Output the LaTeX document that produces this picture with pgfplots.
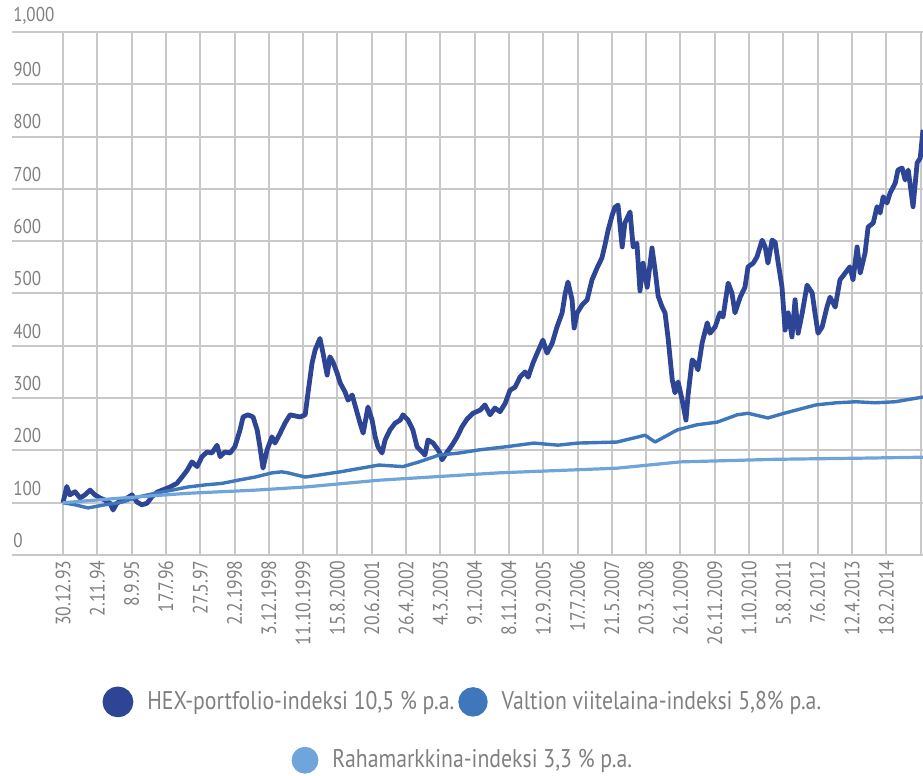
\documentclass[border=0pt]{standalone}
\usepackage{fontspec}
\setmainfont{PT Sans}[FakeStretch=0.85]
\usepackage{pgfplots}
\pgfplotsset{compat=1.18}
\definecolor{hex}{RGB}{46,68,148}
\definecolor{valt}{RGB}{62,119,188}
\definecolor{raha}{RGB}{112,165,219}
\definecolor{txt}{RGB}{128,128,128}
\definecolor{gridc}{RGB}{200,200,200}
\begin{document}
\begin{tikzpicture}
\begin{axis}[
  scale only axis, width=455.5pt, height=261.5pt,
  xmin=-1.487, xmax=25.07, ymin=0, ymax=1000,
  axis line style={draw=none}, tick style={draw=none},
  xtick={0,...,25},
  xticklabels={30.12.93, 2.11.94, 8.9.95, 17.7.96, 27.5.97, 2.2.1998, 3.12.1998, 11.10.1999, 15.8.2000, 20.6.2001, 26.4.2002, 4.3.2003, 9.1.2004, 8.11.2004, 12.9.2005, 17.7.2006, 21.5.2007, 20.3.2008, 26.1.2009, 26.11.2009, 1.10.2010, 5.8.2011, 7.6.2012, 12.4.2013, 18.2.2014, {}},
  ytick={0,100,...,1000},
  /pgf/number format/assume math mode=true,
  /pgf/number format/1000 sep={,},
  grid=major, major grid style={gridc, line width=1pt},
  yticklabel style={anchor=south west, inner xsep=0.5pt, inner ysep=3.5pt, font=\fontsize{10}{12}\selectfont, text=txt},
  xticklabel style={rotate=90, anchor=east, inner sep=2.5pt, font=\fontsize{10.4}{12}\selectfont, text=txt},
  legend style={at={(0.496,-0.243)}, anchor=north, draw=none, fill=none, font=\fontsize{12.8}{15}\selectfont, text=txt, /tikz/every even column/.append style={column sep=0pt}},
  legend columns=2,
  legend image code/.code={\fill (6.5pt,0pt) circle (6.5pt); \path (18pt,0pt);},
]
\addplot[color=hex, line width=2.4pt, line join=round] coordinates {
(0,100)(0.11,131)(0.20,115)(0.35,121)(0.50,109)(0.64,115)(0.79,124)(0.93,115)(1.08,109)(1.22,105)
(1.37,99)(1.46,86)(1.57,99)(1.72,105)(1.87,109)(2.01,115)(2.16,101)(2.30,96)(2.45,99)(2.59,111)
(2.74,120)(2.89,124)(3.12,130)(3.32,137)(3.47,149)(3.62,162)(3.76,178)(3.91,169)(4.05,188)(4.20,197)
(4.34,195)(4.49,210)(4.58,188)(4.72,197)(4.87,195)(5.01,207)(5.16,239)(5.25,264)(5.39,268)(5.54,264)
(5.66,239)(5.74,207)(5.83,166)(5.95,201)(6.09,226)(6.18,214)(6.33,233)(6.47,252)(6.62,268)(6.76,266)
(6.91,264)(7.06,268)(7.14,309)(7.26,367)(7.35,392)(7.49,414)(7.58,386)(7.70,344)(7.78,379)(7.87,369)
(7.99,348)(8.08,329)(8.22,312)(8.31,296)(8.43,306)(8.51,287)(8.66,252)(8.75,233)(8.89,283)(9.01,258)
(9.10,226)(9.18,207)(9.30,195)(9.39,220)(9.53,239)(9.68,252)(9.83,258)(9.91,268)(10.06,258)(10.20,239)
(10.32,207)(10.47,197)(10.55,191)(10.64,220)(10.79,214)(10.90,204)(10.99,195)(11.05,182)(11.20,197)(11.34,210)
(11.49,226)(11.63,245)(11.78,260)(11.95,271)(12.16,277)(12.30,287)(12.45,268)(12.59,281)(12.74,274)(12.89,290)
(13.03,315)(13.18,321)(13.32,340)(13.47,350)(13.56,340)(13.70,367)(13.85,390)(13.99,411)(14.11,386)(14.26,405)
(14.40,436)(14.55,463)(14.64,500)(14.72,522)(14.84,488)(14.90,434)(14.99,463)(15.13,478)(15.28,488)(15.42,526)
(15.57,549)(15.71,568)(15.80,593)(15.89,621)(16.01,650)(16.09,665)(16.18,669)(16.30,589)(16.38,635)(16.53,656)
(16.62,589)(16.73,596)(16.82,505)(16.91,558)(17.03,512)(17.17,587)(17.26,545)(17.35,495)(17.46,475)(17.55,463)
(17.64,414)(17.76,335)(17.84,310)(17.93,331)(18.05,296)(18.16,258)(18.22,305)(18.34,373)(18.43,367)(18.51,354)
(18.63,405)(18.78,444)(18.86,424)(19.01,436)(19.15,463)(19.24,455)(19.39,520)(19.50,501)(19.59,463)(19.74,493)
(19.88,512)(19.97,551)(20.12,558)(20.23,570)(20.38,602)(20.47,589)(20.55,558)(20.67,602)(20.76,598)(20.85,558)
(20.96,512)(21.05,430)(21.14,463)(21.25,417)(21.34,488)(21.43,424)(21.55,463)(21.69,516)(21.84,501)(21.92,463)
(22.01,424)(22.13,436)(22.27,474)(22.36,493)(22.51,474)(22.65,526)(22.80,539)(22.94,551)(23.03,526)(23.15,589)
(23.24,539)(23.38,577)(23.47,627)(23.62,635)(23.73,666)(23.82,654)(23.91,685)(24.02,673)(24.11,692)(24.26,711)
(24.34,736)(24.46,740)(24.55,717)(24.64,736)(24.78,666)(24.90,750)(24.99,759)(25.07,813)
};
\addlegendentry{HEX-portfolio-indeksi 10,5 \% p.a.}
\addplot[color=valt, line width=1.7pt, line join=round] coordinates {
(0,100)(0.35,96)(0.73,90)(1.22,96)(1.72,101)(2.19,111)(2.68,118)(3.18,124)(3.64,130)(4.14,134)
(4.64,137)(5.10,143)(5.60,149)(6.09,157)(6.38,159)(6.56,157)(7.06,149)(8.08,159)(9.21,172)(9.91,169)
(10.38,178)(10.96,191)(11.55,195)(12.13,201)(12.92,207)(13.73,214)(14.43,210)(15.01,214)(16.15,216)(16.97,229)
(17.26,216)(17.90,239)(18.48,249)(19.07,254)(19.65,268)(19.97,271)(20.55,262)(21.02,271)(21.95,287)(22.54,291)
(23.12,293)(23.67,291)(24.26,293)(25.07,302)
};
\addlegendentry{Valtion viitelaina-indeksi 5,8\% p.a.}
\addplot[color=raha, line width=1.6pt, line join=round, forget plot] coordinates {
(0,100)(1.72,109)(3.64,118)(5.60,124)(7.06,130)(9.21,143)(12.68,157)(16.15,166)(17.99,178)(20.79,183)
(23.12,185)(25.07,187)
};
\end{axis}
\begin{axis}[
  scale only axis, width=455.5pt, height=261.5pt,
  xmin=0, xmax=1, ymin=0, ymax=1, hide axis,
  legend style={at={(0.496,-0.356)}, anchor=north, draw=none, fill=none, font=\fontsize{12.8}{15}\selectfont, text=txt},
  legend image code/.code={\fill (6.5pt,0pt) circle (6.5pt); \path (18pt,0pt);},
]
\addlegendimage{color=raha}
\addlegendentry{Rahamarkkina-indeksi 3,3 \% p.a.}
\end{axis}
\pgfresetboundingbox
\path (-6pt,-110.5pt) rectangle (455.5pt,277.5pt);
\end{tikzpicture}
\end{document}
